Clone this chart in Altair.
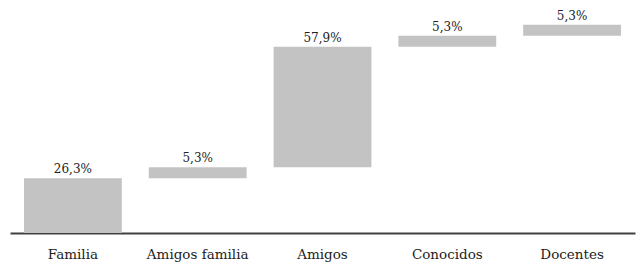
import altair as alt
import pandas as pd

categories = ["Familia", "Amigos familia", "Amigos", "Conocidos", "Docentes"]
values = [26.3, 5.3, 57.9, 5.3, 5.3]
labels = ["26,3%", "5,3%", "57,9%", "5,3%", "5,3%"]

FONT = "DejaVu Serif"

ends = pd.Series(values).cumsum()
starts = ends - pd.Series(values)
df = pd.DataFrame({
    "cat": categories,
    "start": starts,
    "end": ends,
    "label": labels,
})

x = alt.X("cat:N", sort=categories, title=None,
          scale=alt.Scale(paddingInner=0.216, paddingOuter=0.112),
          axis=alt.Axis(labelAngle=0, ticks=False, domainColor="#404040",
                        domainWidth=2, labelFont=FONT,
                        labelFontSize=13.5, labelColor="#222222",
                        labelPadding=14, labelBaseline="top", grid=False))
yscale = alt.Scale(domain=[0, 100], nice=False, zero=True)

bars = alt.Chart(df).mark_bar(color="#c3c3c3").encode(
    x=x,
    y=alt.Y("start:Q", scale=yscale, axis=None),
    y2="end:Q",
)
text = alt.Chart(df).mark_text(
    baseline="bottom", dy=-2, font=FONT, fontSize=12, color="#222222"
).encode(
    x=alt.X("cat:N", sort=categories),
    y=alt.Y("end:Q", scale=yscale, axis=None),
    text="label:N",
)

chart = (bars + text).properties(
    width=625, height=208,
    background="white",
    autosize=alt.AutoSizeParams(type="none"),
    padding={"left": 10, "top": 25, "right": 6, "bottom": 36},
).configure_view(strokeWidth=0)

chart.save("out.html", embed_options={"renderer": "svg", "actions": False})
